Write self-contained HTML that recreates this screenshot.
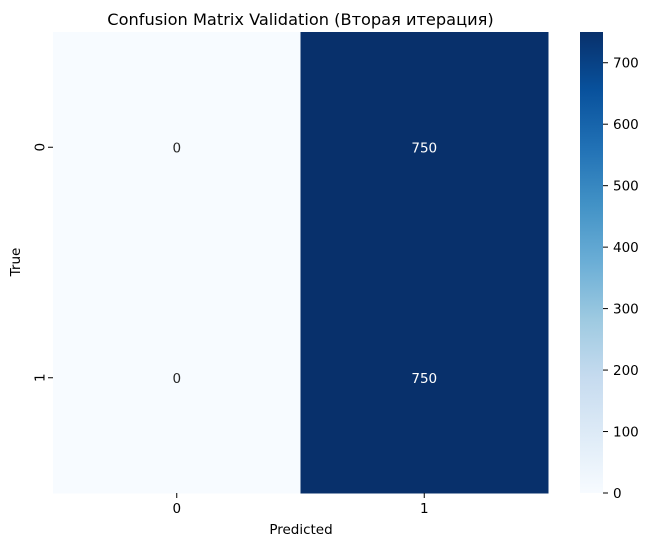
<!DOCTYPE html>
<html><head><meta charset="utf-8"><style>
body{margin:0;background:#fff;}
svg text{font-family:"DejaVu Sans","Liberation Sans",sans-serif;}
</style></head><body>
<svg id="chart" width="649" height="547" xmlns="http://www.w3.org/2000/svg">
<defs><linearGradient id="blues" x1="0" y1="1" x2="0" y2="0">
<stop offset="0" stop-color="#f7fbff"/><stop offset="0.125" stop-color="#deebf7"/>
<stop offset="0.25" stop-color="#c6dbef"/><stop offset="0.375" stop-color="#9ecae1"/>
<stop offset="0.5" stop-color="#6baed6"/><stop offset="0.625" stop-color="#4292c6"/>
<stop offset="0.75" stop-color="#2171b5"/><stop offset="0.875" stop-color="#08519c"/>
<stop offset="1" stop-color="#08306b"/></linearGradient></defs>
<text x="300.5" y="25" font-size="16.2" text-anchor="middle" fill="#000">Confusion Matrix Validation (Вторая итерация)</text>
<g id="cells"></g>
<g id="axes"></g>
<text x="301" y="534" font-size="13.5" text-anchor="middle">Predicted</text>
<text x="20" y="262" font-size="13.5" text-anchor="middle" transform="rotate(-90 20 262)">True</text>
<rect x="580" y="32" width="23" height="461" fill="url(#blues)"/>
<g id="cbticks"></g>
</svg>
<script>
const rowLabels=["0","1"];
const colLabels=["0","1"];
const matrix=[[0,750],[0,750]];
const cbTicks=[0,100,200,300,400,500,600,700];
const vmin=0, vmax=750;
const L=53,R=548,T=32,B=493;
const ns="http://www.w3.org/2000/svg";
function mk(t,a,p){const e=document.createElementNS(ns,t);for(const k in a)e.setAttribute(k,a[k]);p.appendChild(e);return e;}
const stops=[[0,[247,251,255]],[.125,[222,235,247]],[.25,[198,219,239]],[.375,[158,202,225]],[.5,[107,174,214]],[.625,[66,146,198]],[.75,[33,113,181]],[.875,[8,81,156]],[1,[8,48,107]]];
function color(v){const t=Math.max(0,Math.min(1,(v-vmin)/(vmax-vmin)));for(let i=1;i<stops.length;i++){if(t<=stops[i][0]){const a=stops[i-1],b=stops[i];const f=(t-a[0])/(b[0]-a[0]);const c=a[1].map((x,j)=>Math.round(x+(b[1][j]-x)*f));return `rgb(${c})`;}}return "rgb(8,48,107)";}
const cw=(R-L)/colLabels.length, ch=(B-T)/rowLabels.length;
const xs=j=>L+j*cw, ys=i=>T+i*ch;
const cells=document.getElementById('cells'),axes=document.getElementById('axes');
matrix.forEach((row,i)=>row.forEach((v,j)=>{
const r=mk('rect',{x:xs(j),y:ys(i),width:cw+0.5,height:ch+0.5,fill:color(v)},cells);


const t=mk('text',{x:xs(j)+cw/2,y:ys(i)+ch/2+5,'font-size':13.5,'text-anchor':'middle',fill:(v-vmin)/(vmax-vmin)>0.5?'#fff':'#262626'},cells);
t.textContent=v;


}));
colLabels.forEach((l,j)=>{const x=xs(j)+cw/2;
mk('line',{x1:x,x2:x,y1:B,y2:B+5,stroke:'#000'},axes);
const t=mk('text',{x:x,y:B+20,'font-size':13.5,'text-anchor':'middle'},axes);t.textContent=l;

});
rowLabels.forEach((l,i)=>{const y=ys(i)+ch/2;
mk('line',{x1:L-5,x2:L,y1:y,y2:y,stroke:'#000'},axes);
const t=mk('text',{x:L-13,y:y,'font-size':13.5,'text-anchor':'middle',transform:`rotate(-90 ${L-13} ${y})`,dy:'0.35em'},axes);t.textContent=l;

});
const cb=document.getElementById('cbticks');
cbTicks.forEach(v=>{const y=B-(v-vmin)/(vmax-vmin)*(B-T);
mk('line',{x1:603,x2:608,y1:y,y2:y,stroke:'#000'},cb);
const t=mk('text',{x:613,y:y+5,'font-size':13.5},cb);t.textContent=v;

});
</script>
</body></html>
